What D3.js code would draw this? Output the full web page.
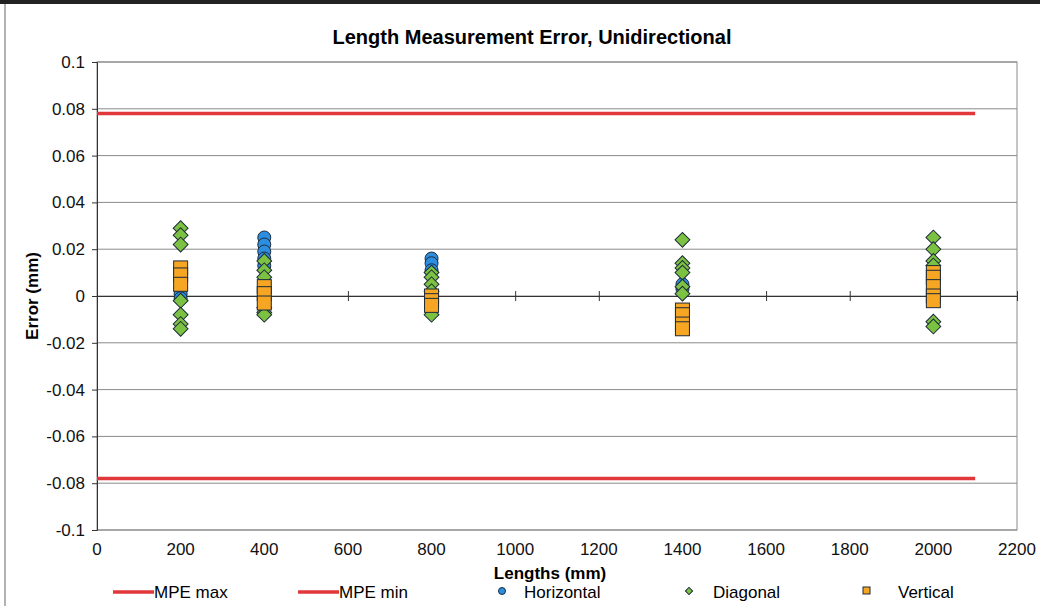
<!DOCTYPE html>
<html>
<head>
<meta charset="utf-8">
<script src="https://cdn.jsdelivr.net/npm/d3@7"></script>
<style>
  body { margin: 0; background: #fff; }
  text { font-family: "Liberation Sans", Arial, sans-serif; }
</style>
</head>
<body>
<script>
// data
var xTicks = [0, 200, 400, 600, 800, 1000, 1200, 1400, 1600, 1800, 2000, 2200];
var yTicks = [-0.1, -0.08, -0.06, -0.04, -0.02, 0, 0.02, 0.04, 0.06, 0.08, 0.1];

var mpeMax = [[0, 0.078], [2100, 0.078]];
var mpeMin = [[0, -0.078], [2100, -0.078]];

var horizontal = [
  [200, 0.009], [200, 0.001], [200, -0.001],
  [400, 0.025], [400, 0.022], [400, 0.019], [400, 0.016], [400, 0.013],
  [800, 0.016], [800, 0.014], [800, 0.011],
  [1400, 0.005], [1400, 0.003],
  [2000, 0.005], [2000, 0.004]
];
var diagonal = [
  [200, 0.029], [200, 0.026], [200, 0.022], [200, -0.002], [200, -0.008], [200, -0.012], [200, -0.014],
  [400, 0.015], [400, 0.011], [400, 0.008], [400, -0.005], [400, -0.007], [400, -0.008],
  [800, 0.010], [800, 0.008], [800, 0.005], [800, 0.002], [800, -0.008],
  [1400, 0.024], [1400, 0.014], [1400, 0.012], [1400, 0.010], [1400, 0.004], [1400, 0.001],
  [2000, 0.025], [2000, 0.020], [2000, 0.015], [2000, 0.013], [2000, -0.011], [2000, -0.013]
];
var vertical = [
  [200, 0.012], [200, 0.009], [200, 0.005],
  [400, 0.004], [400, 0.001], [400, -0.003],
  [800, 0.000], [800, -0.002], [800, -0.004],
  [1400, -0.006], [1400, -0.008], [1400, -0.012], [1400, -0.014],
  [2000, 0.010], [2000, 0.008], [2000, 0.004], [2000, 0.000], [2000, -0.002]
];

var W = 1040, H = 606;
var margin = {top: 62, right: 23, bottom: 76, left: 97},
    width = W - margin.left - margin.right,
    height = H - margin.top - margin.bottom;

var svg = d3.select("body").append("svg")
    .attr("width", W)
    .attr("height", H);

// outer frame bits
svg.append("line").attr("x1", 0).attr("x2", W).attr("y1", 2).attr("y2", 2)
  .attr("stroke", "#222").attr("stroke-width", 4);
svg.append("line").attr("x1", 5).attr("x2", 5).attr("y1", 4).attr("y2", H)
  .attr("stroke", "#666").attr("stroke-width", 1);

var g = svg.append("g")
    .attr("transform", "translate(" + margin.left + "," + margin.top + ")");

var x = d3.scaleLinear().domain([0, 2200]).range([0, width]);
var y = d3.scaleLinear().domain([-0.1, 0.1]).range([height, 0]);

// gridlines
g.append("g").selectAll("line")
  .data(yTicks)
  .enter().append("line")
    .attr("x1", 0).attr("x2", width)
    .attr("y1", function(d) { return y(d); })
    .attr("y2", function(d) { return y(d); })
    .attr("stroke", "#8a8a8a")
    .attr("stroke-width", 1);

// plot border
g.append("rect")
  .attr("width", width).attr("height", height)
  .attr("fill", "none").attr("stroke", "#8a8a8a");

// y axis
var yAxis = g.append("g")
  .call(d3.axisLeft(y).tickValues(yTicks).tickSize(5).tickPadding(7)
    .tickFormat(function(d) { return String(+d.toFixed(2)); }));
yAxis.select(".domain").attr("stroke", "#333");
yAxis.selectAll(".tick line").attr("stroke", "#333");
yAxis.selectAll("text").attr("font-size", 17).attr("fill", "#111");

// x axis at zero, cross ticks
var xAxis = g.append("g")
  .attr("transform", "translate(0," + y(0) + ")")
  .call(d3.axisBottom(x).tickValues(xTicks).tickSizeInner(5).tickSizeOuter(0).tickFormat(""));
xAxis.select(".domain").attr("stroke", "#333");
xAxis.selectAll(".tick line").attr("stroke", "#333").attr("y1", -5).attr("y2", 5);

// x tick labels at bottom
g.append("g").selectAll("text")
  .data(xTicks)
  .enter().append("text")
    .attr("x", function(d) { return x(d); })
    .attr("y", height + 25)
    .attr("text-anchor", "middle")
    .attr("font-size", 17)
    .attr("fill", "#111")
    .text(function(d) { return d; });

// MPE lines
var line = d3.line().x(function(d) { return x(d[0]); }).y(function(d) { return y(d[1]); });
[mpeMax, mpeMin].forEach(function(s) {
  g.append("path").datum(s)
    .attr("d", line)
    .attr("fill", "none")
    .attr("stroke", "#e2373a")
    .attr("stroke-width", 3.5);
});

var outline = "#1d2a3a";

// horizontal: circles
g.append("g").selectAll("circle")
  .data(horizontal)
  .enter().append("circle")
    .attr("cx", function(d) { return x(d[0]); })
    .attr("cy", function(d) { return y(d[1]); })
    .attr("r", 6.5)
    .attr("fill", "#2b8ee0")
    .attr("stroke", outline)
    .attr("stroke-width", 1);

// diagonal: diamonds
var diamond = d3.symbol().type(d3.symbolSquare).size(110);
g.append("g").selectAll("path")
  .data(diagonal)
  .enter().append("path")
    .attr("d", diamond)
    .attr("transform", function(d) { return "translate(" + x(d[0]) + "," + y(d[1]) + ") rotate(45)"; })
    .attr("fill", "#7cc242")
    .attr("stroke", outline)
    .attr("stroke-width", 1);

// vertical: squares
g.append("g").selectAll("rect")
  .data(vertical)
  .enter().append("rect")
    .attr("x", function(d) { return x(d[0]) - 7; })
    .attr("y", function(d) { return y(d[1]) - 7; })
    .attr("width", 14).attr("height", 14)
    .attr("fill", "#f6a623")
    .attr("stroke", outline)
    .attr("stroke-width", 1);

// titles
svg.append("text")
  .attr("x", 532).attr("y", 44)
  .attr("text-anchor", "middle")
  .attr("font-size", 20).attr("font-weight", "bold")
  .text("Length Measurement Error, Unidirectional");

svg.append("text")
  .attr("transform", "translate(38," + (margin.top + height / 2) + ") rotate(-90)")
  .attr("text-anchor", "middle")
  .attr("font-size", 17).attr("font-weight", "bold")
  .text("Error (mm)");

svg.append("text")
  .attr("x", 550).attr("y", 579)
  .attr("text-anchor", "middle")
  .attr("font-size", 17).attr("font-weight", "bold")
  .text("Lengths (mm)");

// legend
var ly = 592;
var leg = svg.append("g");
[{x: 113, label: "MPE max"}, {x: 298, label: "MPE min"}].forEach(function(l) {
  leg.append("line").attr("x1", l.x).attr("x2", l.x + 41).attr("y1", ly).attr("y2", ly)
    .attr("stroke", "#e2373a").attr("stroke-width", 3.5);
  leg.append("text").attr("x", l.x + 41).attr("y", ly + 6).attr("font-size", 17).text(l.label);
});
leg.append("circle").attr("cx", 502).attr("cy", ly - 1).attr("r", 3.5)
  .attr("fill", "#2b8ee0").attr("stroke", outline);
leg.append("text").attr("x", 524).attr("y", ly + 6).attr("font-size", 17).text("Horizontal");
leg.append("path").attr("d", d3.symbol().type(d3.symbolSquare).size(26))
  .attr("transform", "translate(689," + (ly - 1) + ") rotate(45)")
  .attr("fill", "#7cc242").attr("stroke", outline);
leg.append("text").attr("x", 713).attr("y", ly + 6).attr("font-size", 17).text("Diagonal");
leg.append("rect").attr("x", 863).attr("y", ly - 5).attr("width", 7).attr("height", 7)
  .attr("fill", "#f6a623").attr("stroke", outline);
leg.append("text").attr("x", 898).attr("y", ly + 6).attr("font-size", 17).text("Vertical");
</script>
</body>
</html>
